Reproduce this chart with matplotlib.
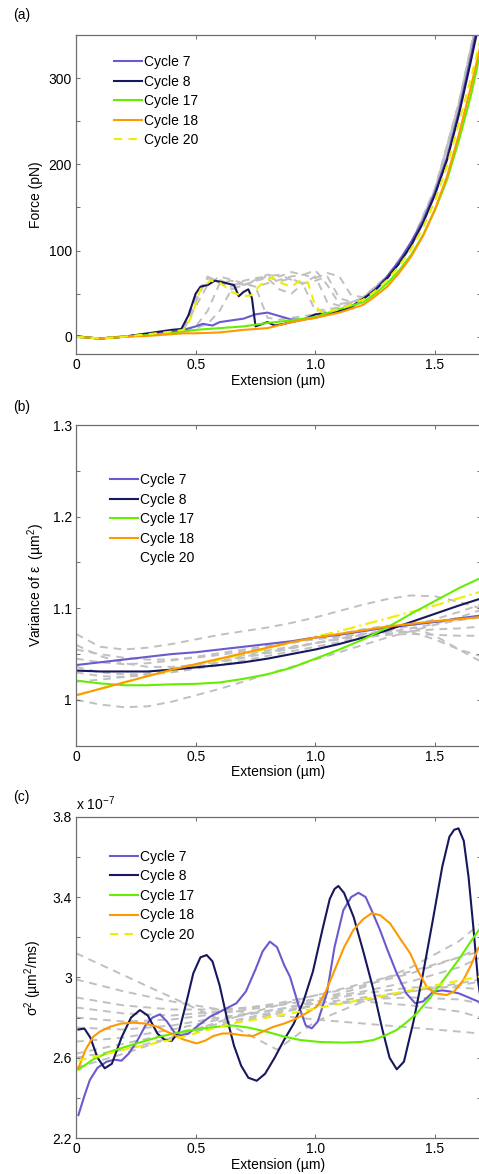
import numpy as np
import matplotlib
matplotlib.use('Agg')
import matplotlib.pyplot as plt
from matplotlib.lines import Line2D

plt.rcParams['font.family'] = 'Liberation Sans'
plt.rcParams['mathtext.fontset'] = 'custom'
plt.rcParams['mathtext.rm'] = 'Liberation Sans'
plt.rcParams['mathtext.it'] = 'Liberation Sans:italic'
plt.rcParams['font.size'] = 10

labels = ['Cycle 7', 'Cycle 8', 'Cycle 17', 'Cycle 18', 'Cycle 20']
colors = ['#6a5acd', '#17175e', '#66ee00', '#ff9900', '#eeee00']
gray = '#c0c0c0'

# ---- panel (a): force vs extension ----
a_x7 = [0, 0.05, 0.1, 0.15, 0.2, 0.3, 0.4, 0.45, 0.5, 0.53, 0.57, 0.6, 0.65, 0.7, 0.75, 0.8, 0.85,
        0.9, 0.95, 1.0, 1.05, 1.1, 1.15, 1.2, 1.25, 1.3, 1.35, 1.4, 1.45, 1.5, 1.55, 1.6, 1.65, 1.69]
a_y7 = [0, -1, -2, -1, 0, 3, 5, 8, 12, 15, 13, 17, 19, 21, 26, 28, 24,
        20, 20, 22, 26, 29, 34, 44, 55, 70, 88, 110, 135, 168, 208, 262, 325, 380]
a_x8 = [0, 0.05, 0.1, 0.15, 0.2, 0.25, 0.3, 0.35, 0.4, 0.44, 0.47, 0.5, 0.52, 0.55, 0.58, 0.6, 0.63,
        0.66, 0.68, 0.7, 0.72, 0.735, 0.75, 0.78, 0.8, 0.83, 0.87, 0.9, 0.95, 1.0, 1.05, 1.1, 1.15,
        1.2, 1.25, 1.3, 1.35, 1.4, 1.45, 1.5, 1.55, 1.6, 1.65, 1.69]
a_y8 = [1, -1, -2, -1, 0, 2, 4, 6, 8, 9, 25, 50, 58, 60, 65, 64, 62,
        60, 47, 52, 55, 45, 12, 15, 17, 13, 15, 17, 20, 26, 27, 30, 35,
        44, 54, 68, 85, 106, 132, 165, 205, 258, 320, 372]
a_x17 = [0, 0.05, 0.1, 0.15, 0.2, 0.3, 0.4, 0.45, 0.5, 0.6, 0.7, 0.8, 0.9, 1.0, 1.1, 1.2, 1.25,
         1.3, 1.35, 1.4, 1.45, 1.5, 1.55, 1.6, 1.65, 1.69]
a_y17 = [0, -1, -2, -1, 0, 2, 4, 6, 8, 10, 12, 16, 19, 23, 32, 40, 50,
         62, 77, 95, 118, 147, 182, 228, 280, 330]
a_y18 = [0, -1, -2, -1, 0, 1, 3, 4, 4, 5, 8, 10, 17, 22, 28, 37, 47,
         58, 74, 93, 117, 148, 186, 235, 290, 338]
a_x20 = [0, 0.05, 0.1, 0.15, 0.2, 0.3, 0.4, 0.45, 0.48, 0.52, 0.56, 0.6, 0.65, 0.7, 0.73, 0.77,
         0.82, 0.86, 0.9, 0.94, 0.97, 1.0, 1.03, 1.1, 1.2, 1.25, 1.3, 1.35, 1.4, 1.45, 1.5, 1.55,
         1.6, 1.65, 1.69]
a_y20 = [0, -1, -2, -1, 0, 3, 6, 8, 22, 55, 65, 63, 52, 47, 48, 60,
         69, 62, 58, 66, 62, 35, 28, 32, 43, 53, 66, 82, 102, 127, 158, 198,
         248, 300, 345]
a_gx = [0, 0.1, 0.2, 0.3, 0.4, 0.45, 0.5, 0.55, 0.6, 0.65, 0.7, 0.75, 0.8, 0.85, 0.9, 0.95, 1.0,
        1.05, 1.1, 1.15, 1.2, 1.3, 1.4, 1.5, 1.6, 1.67]
a_gy = [
    [0, -2, 0, 3, 6, 9, 45, 68, 66, 60, 62, 58, 22, 20, 22, 24, 26, 30, 34, 38, 44, 68, 105, 168, 268, 360],
    [0, -2, 0, 3, 6, 9, 40, 70, 62, 58, 65, 68, 70, 64, 68, 60, 30, 32, 34, 38, 46, 70, 108, 172, 272, 362],
    [0, -2, 0, 3, 5, 8, 10, 15, 30, 55, 60, 65, 70, 72, 66, 62, 70, 40, 36, 40, 46, 69, 106, 170, 270, 360],
    [0, -2, 1, 3, 6, 8, 12, 30, 62, 65, 60, 66, 72, 70, 75, 72, 77, 60, 38, 40, 45, 70, 107, 171, 272, 362],
    [0, -2, 0, 3, 6, 9, 50, 68, 64, 55, 60, 65, 68, 55, 50, 62, 65, 70, 45, 40, 44, 67, 104, 167, 266, 358],
    [0, -2, 0, 3, 6, 8, 35, 60, 70, 66, 62, 58, 62, 66, 70, 72, 68, 74, 70, 48, 46, 70, 108, 172, 270, 360],
]

# ---- panel (b): variance of epsilon ----
b_x = [0, 0.1, 0.2, 0.3, 0.4, 0.5, 0.6, 0.7, 0.8, 0.9, 1.0, 1.1, 1.2, 1.3, 1.4, 1.5, 1.6, 1.69]
b_y7 = [1.038, 1.041, 1.044, 1.047, 1.050, 1.052, 1.055, 1.058, 1.061, 1.064, 1.068, 1.071, 1.075,
        1.079, 1.082, 1.085, 1.089, 1.092]
b_y8 = [1.032, 1.031, 1.031, 1.031, 1.033, 1.0355, 1.038, 1.041, 1.045, 1.050, 1.055, 1.061, 1.068,
        1.076, 1.085, 1.094, 1.103, 1.1105]
b_y17 = [1.021, 1.018, 1.016, 1.016, 1.017, 1.0175, 1.019, 1.023, 1.028, 1.035, 1.045, 1.055, 1.066,
         1.079, 1.094, 1.108, 1.122, 1.133]
b_y18 = [1.005, 1.012, 1.019, 1.026, 1.033, 1.039, 1.045, 1.051, 1.057, 1.063, 1.068, 1.072, 1.076,
         1.080, 1.083, 1.086, 1.088, 1.0905]
b_y20 = [1.005, 1.012, 1.019, 1.026, 1.032, 1.038, 1.044, 1.050, 1.056, 1.063, 1.069, 1.075, 1.082,
         1.089, 1.096, 1.103, 1.111, 1.118]
b_gy = [
    [1.072, 1.058, 1.055, 1.057, 1.061, 1.066, 1.071, 1.075, 1.079, 1.084, 1.090, 1.097, 1.104, 1.110, 1.114, 1.113, 1.107, 1.100],
    [1.000, 0.995, 0.992, 0.993, 0.998, 1.005, 1.012, 1.020, 1.028, 1.036, 1.044, 1.052, 1.060, 1.068, 1.075, 1.082, 1.087, 1.090],
    [1.055, 1.050, 1.046, 1.044, 1.044, 1.046, 1.049, 1.053, 1.057, 1.062, 1.067, 1.072, 1.077, 1.081, 1.080, 1.070, 1.055, 1.042],
    [1.030, 1.026, 1.025, 1.027, 1.031, 1.036, 1.041, 1.046, 1.051, 1.056, 1.062, 1.067, 1.072, 1.075, 1.074, 1.066, 1.055, 1.048],
    [1.045, 1.041, 1.039, 1.040, 1.043, 1.047, 1.051, 1.055, 1.059, 1.063, 1.066, 1.069, 1.072, 1.076, 1.081, 1.088, 1.096, 1.104],
    [1.020, 1.022, 1.025, 1.029, 1.034, 1.039, 1.044, 1.049, 1.054, 1.058, 1.062, 1.066, 1.069, 1.072, 1.075, 1.077, 1.078, 1.080],
    [1.036, 1.030, 1.028, 1.028, 1.030, 1.034, 1.038, 1.043, 1.048, 1.053, 1.058, 1.063, 1.068, 1.071, 1.072, 1.071, 1.070, 1.070],
    [1.060, 1.048, 1.040, 1.036, 1.036, 1.038, 1.042, 1.047, 1.052, 1.057, 1.062, 1.067, 1.071, 1.074, 1.078, 1.083, 1.090, 1.098],
]

# ---- panel (c): sigma^2, in units of 1e-7 um^2/ms ----
c_x7 = [0.01, 0.035, 0.058, 0.09, 0.128, 0.16, 0.19, 0.22, 0.254, 0.29, 0.32, 0.351, 0.38, 0.414,
        0.44, 0.47, 0.51, 0.56, 0.62, 0.67, 0.71, 0.75, 0.78, 0.81, 0.84, 0.87, 0.894, 0.93, 0.96,
        0.985, 1.01, 1.048, 1.08, 1.117, 1.15, 1.18, 1.21, 1.24, 1.27, 1.30, 1.34, 1.38, 1.417,
        1.45, 1.493, 1.53, 1.56, 1.60, 1.64, 1.681, 1.692]
c_y7 = [2.314, 2.41, 2.489, 2.55, 2.58, 2.59, 2.585, 2.62, 2.68, 2.76, 2.80, 2.816, 2.78, 2.721,
        2.71, 2.72, 2.76, 2.804, 2.84, 2.871, 2.93, 3.04, 3.13, 3.178, 3.15, 3.06, 3.003, 2.86, 2.76,
        2.746, 2.78, 2.92, 3.15, 3.335, 3.40, 3.421, 3.40, 3.32, 3.236, 3.14, 3.02, 2.92, 2.871,
        2.88, 2.929, 2.935, 2.93, 2.92, 2.90, 2.879, 2.875]
c_x8 = [0.01, 0.035, 0.06, 0.09, 0.12, 0.15, 0.19, 0.23, 0.267, 0.30, 0.34, 0.37, 0.40, 0.43, 0.46,
        0.49, 0.52, 0.546, 0.57, 0.60, 0.63, 0.66, 0.69, 0.72, 0.755, 0.79, 0.83, 0.87, 0.91, 0.95,
        0.99, 1.03, 1.06, 1.08, 1.096, 1.12, 1.16, 1.20, 1.24, 1.28, 1.31, 1.34, 1.37, 1.41, 1.45,
        1.49, 1.53, 1.56, 1.58, 1.598, 1.62, 1.64, 1.66, 1.68, 1.692]
c_y8 = [2.74, 2.745, 2.70, 2.60, 2.547, 2.57, 2.70, 2.80, 2.837, 2.81, 2.72, 2.69, 2.684, 2.73, 2.87,
        3.02, 3.10, 3.111, 3.08, 2.96, 2.80, 2.66, 2.56, 2.50, 2.485, 2.52, 2.60, 2.69, 2.77, 2.88,
        3.03, 3.24, 3.39, 3.44, 3.455, 3.42, 3.30, 3.13, 2.95, 2.74, 2.60, 2.542, 2.58, 2.78, 3.02,
        3.28, 3.55, 3.70, 3.735, 3.742, 3.68, 3.50, 3.25, 2.98, 2.88]
c_x17 = [0.01, 0.07, 0.142, 0.25, 0.351, 0.45, 0.532, 0.6, 0.656, 0.72, 0.797, 0.87, 0.936, 1.02,
         1.117, 1.19, 1.243, 1.29, 1.34, 1.38, 1.424, 1.48, 1.535, 1.60, 1.65, 1.692]
c_y17 = [2.54, 2.59, 2.63, 2.67, 2.705, 2.73, 2.746, 2.755, 2.76, 2.75, 2.729, 2.705, 2.688, 2.678,
         2.675, 2.678, 2.688, 2.71, 2.738, 2.775, 2.821, 2.90, 2.986, 3.09, 3.18, 3.25]
c_x18 = [0.01, 0.04, 0.072, 0.10, 0.142, 0.19, 0.24, 0.29, 0.34, 0.37, 0.41, 0.45, 0.504, 0.54,
         0.574, 0.61, 0.644, 0.69, 0.741, 0.78, 0.825, 0.87, 0.908, 0.96, 1.006, 1.04, 1.075, 1.12,
         1.159, 1.20, 1.235, 1.27, 1.312, 1.35, 1.396, 1.43, 1.465, 1.50, 1.549, 1.58, 1.618, 1.65,
         1.681, 1.692]
c_y18 = [2.547, 2.64, 2.704, 2.73, 2.754, 2.77, 2.774, 2.77, 2.754, 2.735, 2.713, 2.69, 2.671, 2.685,
         2.708, 2.72, 2.721, 2.712, 2.708, 2.73, 2.754, 2.77, 2.788, 2.82, 2.854, 2.92, 3.02, 3.15,
         3.236, 3.29, 3.319, 3.31, 3.269, 3.20, 3.12, 3.03, 2.953, 2.92, 2.912, 2.93, 2.986, 3.06,
         3.145, 3.16]
c_x20 = [0.01, 0.2, 0.4, 0.657, 0.85, 1.006, 1.2, 1.33, 1.5, 1.692]
c_y20 = [2.585, 2.64, 2.69, 2.771, 2.81, 2.846, 2.89, 2.92, 2.96, 3.005]
c_gx = [0, 0.2, 0.4, 0.6, 0.84, 1.0, 1.2, 1.4, 1.6, 1.692]
c_gy = [
    [3.12, 3.01, 2.90, 2.79, 2.64, 2.78, 2.88, 2.93, 2.97, 2.99],
    [2.99, 2.93, 2.88, 2.84, 2.81, 2.79, 2.77, 2.75, 2.73, 2.72],
    [2.90, 2.86, 2.84, 2.84, 2.86, 2.89, 2.95, 3.05, 3.18, 3.27],
    [2.85, 2.82, 2.81, 2.83, 2.87, 2.91, 2.96, 3.02, 3.10, 3.15],
    [2.80, 2.78, 2.79, 2.82, 2.86, 2.89, 2.93, 2.98, 3.05, 3.10],
    [2.75, 2.74, 2.76, 2.80, 2.84, 2.87, 2.90, 2.93, 2.96, 2.98],
    [2.68, 2.70, 2.74, 2.79, 2.84, 2.88, 2.92, 2.95, 2.95, 2.94],
    [2.60, 2.64, 2.70, 2.76, 2.82, 2.86, 2.89, 2.90, 2.89, 2.87],
    [2.55, 2.62, 2.70, 2.78, 2.86, 2.91, 2.97, 3.03, 3.10, 3.13],
    [2.62, 2.67, 2.72, 2.77, 2.83, 2.86, 2.88, 2.86, 2.83, 2.80],
]

x_ticks = [0, 0.5, 1.0, 1.5]
x_ticklabels = ['0', '0.5', '1.0', '1.5']
lw = 1.5

fig = plt.figure(figsize=(4.79, 11.74), dpi=100)
ax_a = fig.add_axes([76 / 479, 820 / 1174, 405 / 479, 319 / 1174])
ax_b = fig.add_axes([76 / 479, 428.3 / 1174, 405 / 479, 320.7 / 1174])
ax_c = fig.add_axes([76 / 479, 36 / 1174, 405 / 479, 321.3 / 1174])


def style_axes(ax, ylim, major, minor, fmt):
    ax.set_xlim(0, 1.692)
    ax.set_ylim(*ylim)
    ax.set_xticks(x_ticks)
    ax.set_xticklabels(x_ticklabels)
    ax.set_yticks(major)
    ax.set_yticklabels([fmt % v for v in major])
    ax.set_yticks(minor, minor=True)
    ax.tick_params(which='both', direction='in', top=True, right=True, length=3,
                   width=0.6, color='#555555', labelsize=10, pad=3)
    for sp in ax.spines.values():
        sp.set_color('#6e6e6e')
        sp.set_linewidth(0.9)
    ax.set_xlabel('Extension (µm)', labelpad=1)


def add_legend(ax, handles, anchor):
    ax.legend(handles, labels, loc='upper left', bbox_to_anchor=anchor, frameon=False,
              fontsize=10, handlelength=2.0, handletextpad=0.15, labelspacing=0.4,
              borderpad=0, borderaxespad=0)


gstyle = dict(color=gray, lw=1.4, ls=(0, (4, 3)), zorder=1)

# (a)
for gy in a_gy:
    ax_a.plot(a_gx, gy, **gstyle)
h7, = ax_a.plot(a_x7, a_y7, color=colors[0], lw=lw)
h8, = ax_a.plot(a_x8, a_y8, color=colors[1], lw=lw)
h17, = ax_a.plot(a_x17, a_y17, color=colors[2], lw=lw)
h18, = ax_a.plot(a_x17, a_y18, color=colors[3], lw=lw)
h20, = ax_a.plot(a_x20, a_y20, color=colors[4], lw=lw, ls=(0, (4, 3)))
style_axes(ax_a, (-20, 350), [0, 100, 200, 300], np.arange(0, 351, 50), '%g')
ax_a.set_ylabel('Force (pN)', labelpad=4)
add_legend(ax_a, [h7, h8, h17, h18, h20], (0.094, 0.937))

# (b)
for gy in b_gy:
    ax_b.plot(b_x, gy, **gstyle)
ax_b.plot(b_x, b_y20, color=colors[4], lw=lw, ls=(0, (6, 2, 1, 2)))
h7, = ax_b.plot(b_x, b_y7, color=colors[0], lw=lw)
h8, = ax_b.plot(b_x, b_y8, color=colors[1], lw=lw)
h17, = ax_b.plot(b_x, b_y17, color=colors[2], lw=lw)
h18, = ax_b.plot(b_x, b_y18, color=colors[3], lw=lw)
h20 = Line2D([], [], color='none')
style_axes(ax_b, (0.95, 1.3), [1.0, 1.1, 1.2, 1.3], np.arange(0.95, 1.301, 0.05), '%g')
ax_b.set_ylabel('Variance of ε  (µm$^2$)', labelpad=4)
add_legend(ax_b, [h7, h8, h17, h18, h20], (0.084, 0.85))

# (c)
for gy in c_gy:
    ax_c.plot(c_gx, gy, **gstyle)
h7, = ax_c.plot(c_x7, c_y7, color=colors[0], lw=lw)
h8, = ax_c.plot(c_x8, c_y8, color=colors[1], lw=lw)
h17, = ax_c.plot(c_x17, c_y17, color=colors[2], lw=lw)
h18, = ax_c.plot(c_x18, c_y18, color=colors[3], lw=lw)
h20, = ax_c.plot(c_x20, c_y20, color=colors[4], lw=lw, ls=(0, (4, 3)))
style_axes(ax_c, (2.2, 3.8), [2.2, 2.6, 3.0, 3.4, 3.8], np.arange(2.2, 3.801, 0.2), '%g')
ax_c.set_ylabel('σ$^2$ (µm$^2$/ms)', labelpad=6)
ax_c.text(0.0, 1.012, 'x 10$^{-7}$', transform=ax_c.transAxes, fontsize=10, va='bottom')
add_legend(ax_c, [h7, h8, h17, h18, h20], (0.084, 0.897))

fig.text(13 / 479, 1 - 15 / 1174, '(a)', fontsize=10, va='center')
fig.text(13 / 479, 1 - 407 / 1174, '(b)', fontsize=10, va='center')
fig.text(13 / 479, 1 - 797 / 1174, '(c)', fontsize=10, va='center')

fig.savefig('out.png', dpi=100)
plt.close(fig)
